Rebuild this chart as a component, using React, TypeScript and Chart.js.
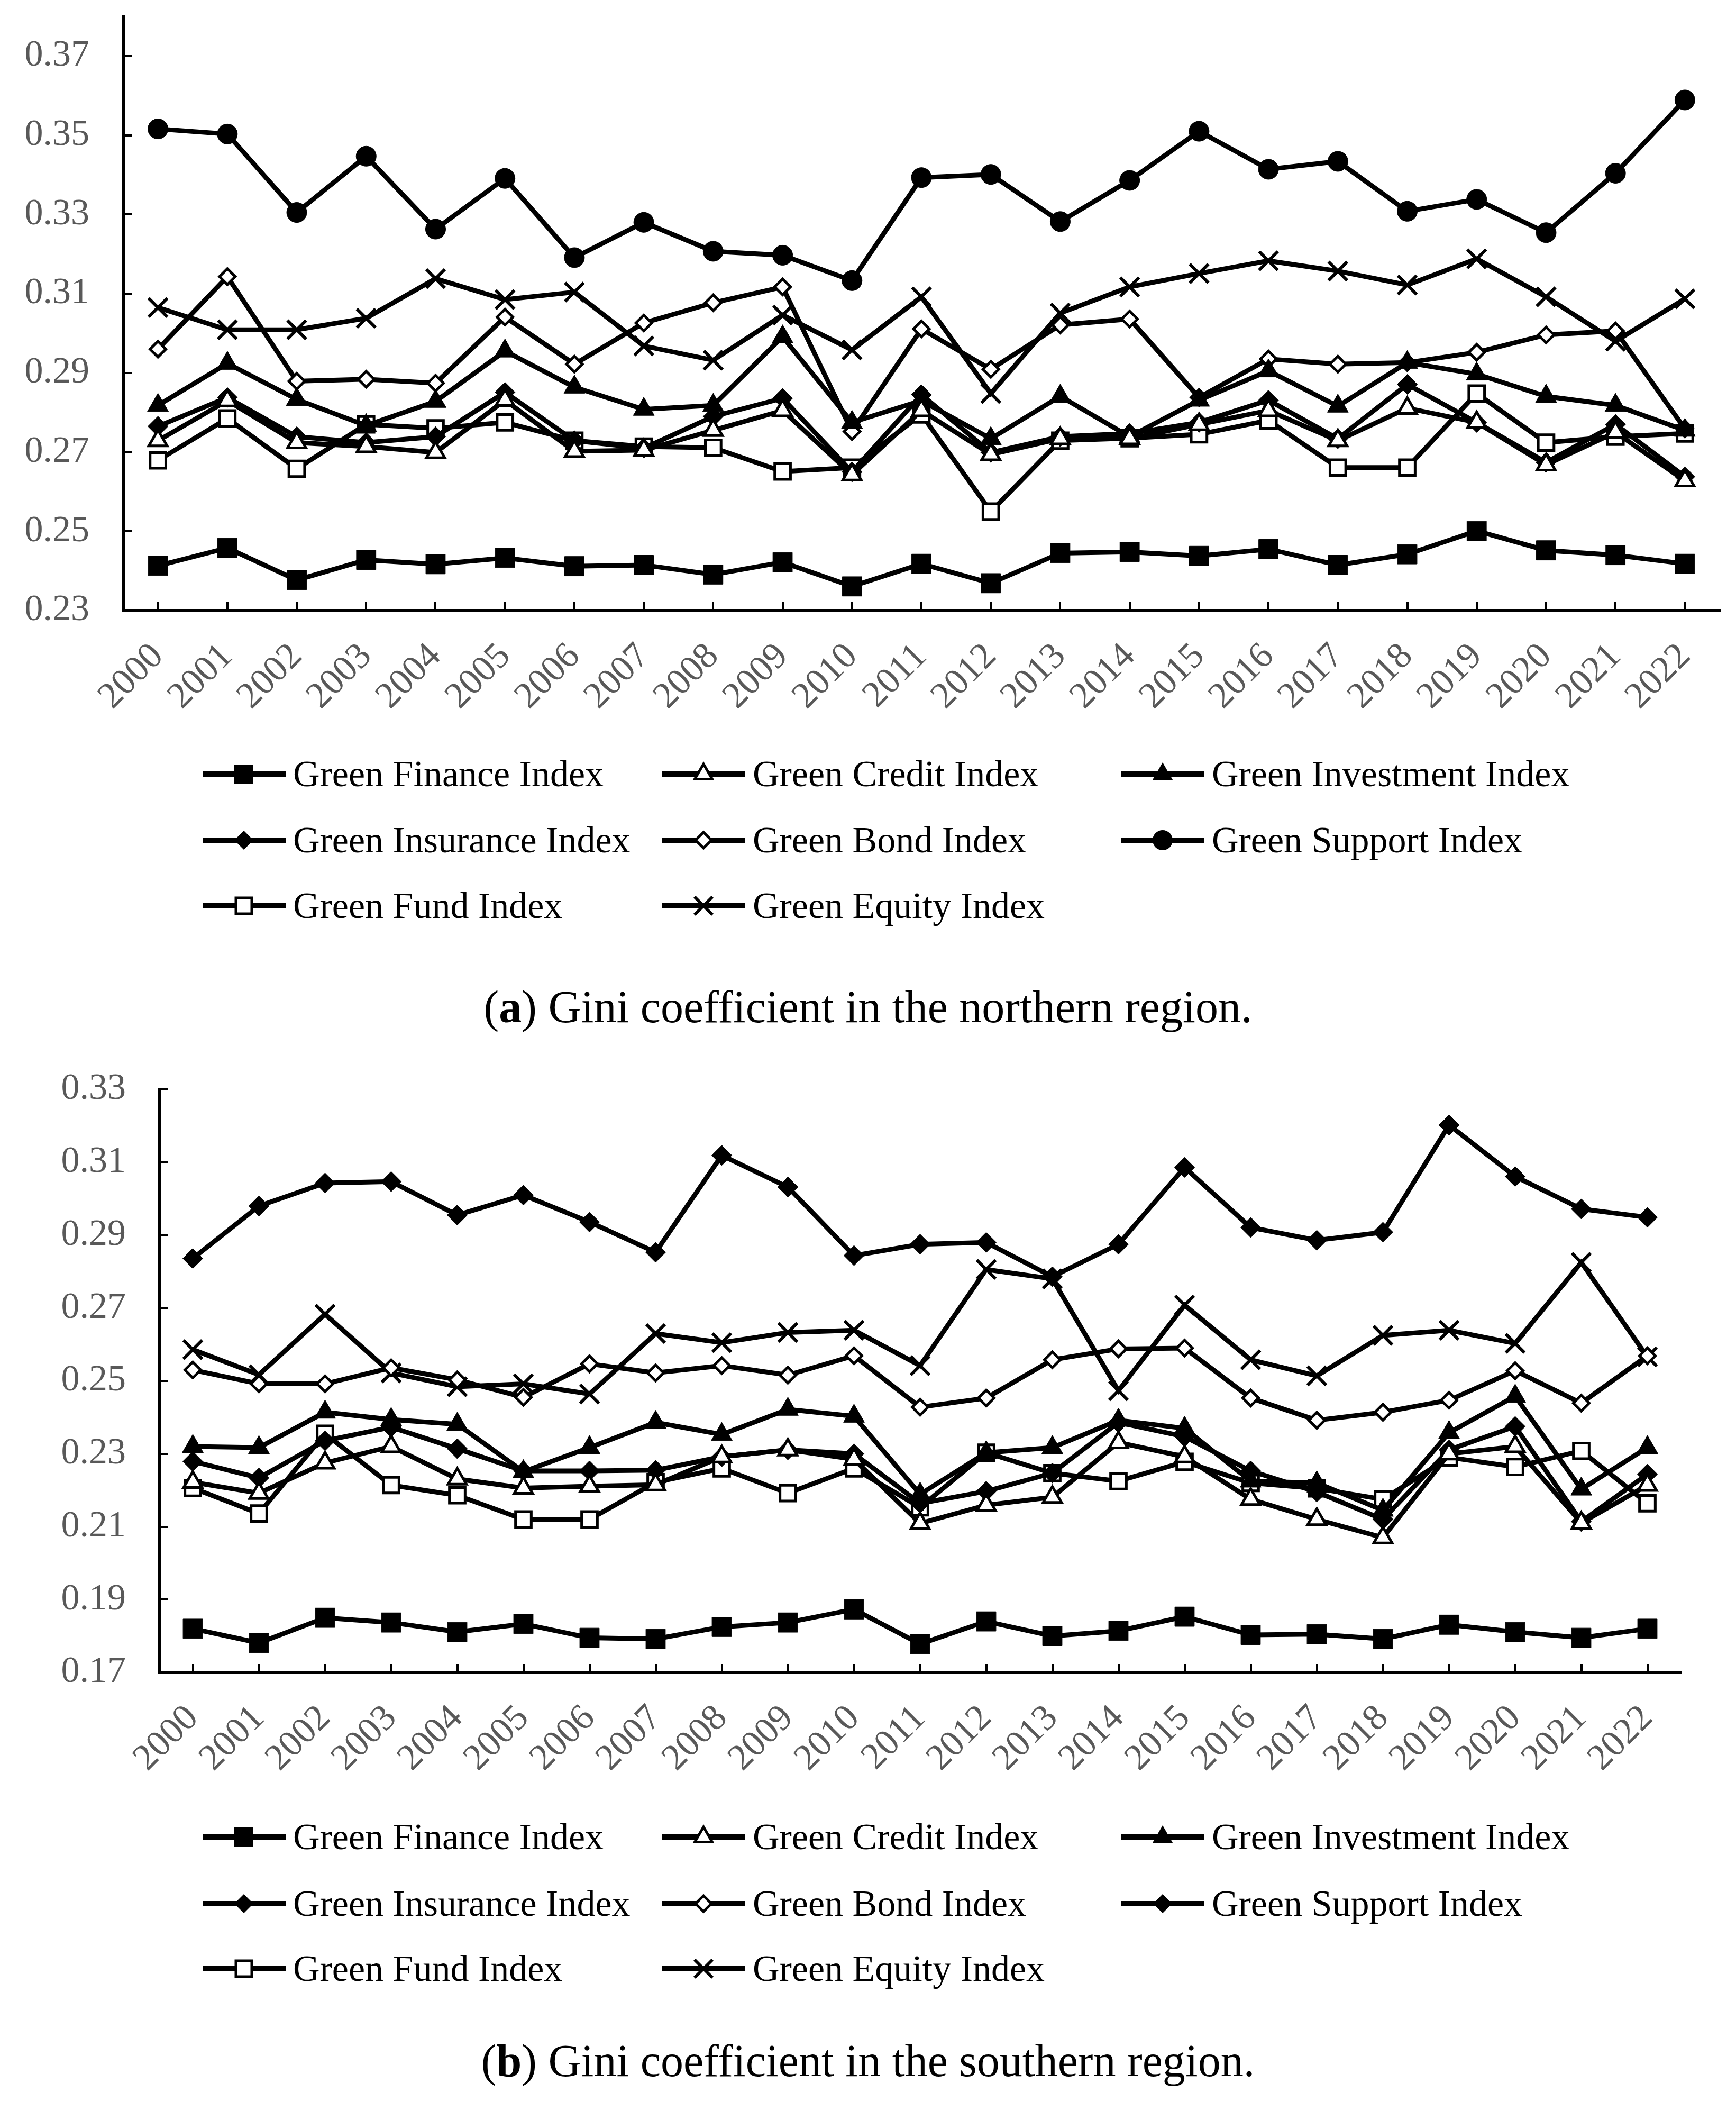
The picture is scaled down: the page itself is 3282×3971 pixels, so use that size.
import React, { useEffect, useRef } from 'react';
import { Chart, registerables } from 'chart.js';

Chart.register(...registerables);

// ---------- data ----------
const years = ['2000','2001','2002','2003','2004','2005','2006','2007','2008','2009','2010','2011','2012','2013','2014','2015','2016','2017','2018','2019','2020','2021','2022'];

const seriesNames = ['Green Finance Index','Green Credit Index','Green Investment Index','Green Insurance Index','Green Bond Index','Green Support Index','Green Fund Index','Green Equity Index'];

const northTicks = [0.23, 0.25, 0.27, 0.29, 0.31, 0.33, 0.35, 0.37];
const southTicks = [0.17, 0.19, 0.21, 0.23, 0.25, 0.27, 0.29, 0.31, 0.33];

const nFinance = [0.2413,0.2458,0.2377,0.2428,0.2417,0.2433,0.2412,0.2415,0.2391,0.2422,0.2361,0.2418,0.2369,0.2445,0.2448,0.2438,0.2455,0.2415,0.2442,0.2501,0.2452,0.2440,0.2418];
const nCredit = [0.2729,0.2830,0.2724,0.2714,0.2699,0.2831,0.2702,0.2705,0.2755,0.2805,0.2643,0.2805,0.2694,0.2734,0.2734,0.2770,0.2805,0.2729,0.2811,0.2775,0.2668,0.2750,0.2628];
const nInvestment = [0.2818,0.2924,0.2833,0.2767,0.2828,0.2955,0.2864,0.2808,0.2818,0.2991,0.2775,0.2830,0.2734,0.2841,0.2739,0.2831,0.2905,0.2816,0.2926,0.2897,0.2841,0.2818,0.2755];
const nInsurance = [0.2765,0.2838,0.2739,0.2724,0.2739,0.2851,0.2729,0.2710,0.2790,0.2836,0.2650,0.2845,0.2699,0.2739,0.2747,0.2775,0.2831,0.2734,0.2871,0.2775,0.2674,0.2770,0.2638];
const nBond = [0.2960,0.3143,0.2879,0.2884,0.2874,0.3041,0.2922,0.3026,0.3077,0.3117,0.2752,0.3011,0.2909,0.3021,0.3036,0.2838,0.2935,0.2922,0.2926,0.2952,0.2996,0.3006,0.2759];
const nSupport = [0.3516,0.3503,0.3305,0.3447,0.3263,0.3391,0.3191,0.3280,0.3207,0.3197,0.3133,0.3393,0.3401,0.3282,0.3386,0.3510,0.3414,0.3434,0.3308,0.3338,0.3254,0.3404,0.3589];
const nFund = [0.2679,0.2785,0.2658,0.2770,0.2760,0.2775,0.2729,0.2714,0.2711,0.2651,0.2661,0.2795,0.2550,0.2729,0.2735,0.2745,0.2780,0.2661,0.2661,0.2848,0.2724,0.2739,0.2747];
const nEquity = [0.3065,0.3009,0.3009,0.3038,0.3138,0.3085,0.3104,0.2968,0.2932,0.3046,0.2958,0.3092,0.2848,0.3051,0.3117,0.3151,0.3183,0.3157,0.3122,0.3188,0.3092,0.2980,0.3087];

const sFinance = [0.1820,0.1781,0.1850,0.1837,0.1811,0.1833,0.1795,0.1792,0.1825,0.1837,0.1873,0.1778,0.1840,0.1800,0.1814,0.1853,0.1803,0.1805,0.1792,0.1831,0.1811,0.1795,0.1820];
const sCredit = [0.2222,0.2192,0.2275,0.2320,0.2231,0.2206,0.2211,0.2215,0.2292,0.2311,0.2285,0.2109,0.2159,0.2181,0.2331,0.2292,0.2175,0.2120,0.2070,0.2300,0.2320,0.2110,0.2214];
const sInvestment = [0.2320,0.2317,0.2414,0.2394,0.2381,0.2251,0.2317,0.2386,0.2353,0.2422,0.2403,0.2189,0.2303,0.2317,0.2392,0.2370,0.2225,0.2220,0.2145,0.2358,0.2458,0.2203,0.2317];
const sInsurance = [0.2279,0.2234,0.2336,0.2373,0.2314,0.2253,0.2253,0.2255,0.2292,0.2311,0.2300,0.2164,0.2197,0.2247,0.2386,0.2347,0.2253,0.2195,0.2120,0.2311,0.2375,0.2114,0.2244];
const sBond = [0.2530,0.2492,0.2492,0.2536,0.2503,0.2455,0.2547,0.2522,0.2542,0.2516,0.2569,0.2428,0.2453,0.2558,0.2588,0.2590,0.2453,0.2392,0.2414,0.2447,0.2528,0.2439,0.2569];
const sSupport = [0.2836,0.2980,0.3043,0.3047,0.2955,0.3010,0.2936,0.2853,0.3119,0.3032,0.2844,0.2875,0.2880,0.2786,0.2875,0.3086,0.2921,0.2886,0.2908,0.3202,0.3061,0.2972,0.2949];
const sFund = [0.2206,0.2136,0.2355,0.2214,0.2186,0.2120,0.2120,0.2222,0.2260,0.2192,0.2260,0.2153,0.2303,0.2247,0.2225,0.2278,0.2220,0.2205,0.2175,0.2290,0.2264,0.2308,0.2164];
const sEquity = [0.2586,0.2517,0.2683,0.2522,0.2484,0.2492,0.2464,0.2630,0.2605,0.2633,0.2639,0.2542,0.2806,0.2780,0.2473,0.2708,0.2558,0.2514,0.2625,0.2639,0.2603,0.2825,0.2566];

// ---------- marker styles ----------
type Mk = 'sqF' | 'triH' | 'triF' | 'diaF' | 'diaH' | 'circF' | 'sqH' | 'cross';
const northMarkers: Mk[] = ['sqF','triH','triF','diaF','diaH','circF','sqH','cross'];
const southMarkers: Mk[] = ['sqF','triH','triF','diaF','diaH','diaF','sqH','cross'];

function pointOpts(m: Mk) {
  switch (m) {
    case 'sqF': return { pointStyle: 'rect', pointRadius: 26, pointBackgroundColor: '#000', pointBorderWidth: 1 };
    case 'triH': return { pointStyle: 'triangle', pointRadius: 20, pointBackgroundColor: '#fff', pointBorderWidth: 5 };
    case 'triF': return { pointStyle: 'triangle', pointRadius: 23, pointBackgroundColor: '#000', pointBorderWidth: 1 };
    case 'diaF': return { pointStyle: 'rectRot', pointRadius: 19, pointBackgroundColor: '#000', pointBorderWidth: 1 };
    case 'diaH': return { pointStyle: 'rectRot', pointRadius: 15, pointBackgroundColor: '#fff', pointBorderWidth: 5 };
    case 'circF': return { pointStyle: 'circle', pointRadius: 19, pointBackgroundColor: '#000', pointBorderWidth: 1 };
    case 'sqH': return { pointStyle: 'rect', pointRadius: 21, pointBackgroundColor: '#fff', pointBorderWidth: 5 };
    case 'cross': return { pointStyle: 'crossRot', pointRadius: 25, pointBackgroundColor: '#000', pointBorderWidth: 6 };
  }
}

function LegendMarker({ m }: { m: Mk }) {
  const cx = 78, cy = 30;
  let shape: React.ReactNode = null;
  const tri = (r: number) => `${cx},${cy - r} ${cx + r * 0.866},${cy + r / 2} ${cx - r * 0.866},${cy + r / 2}`;
  const dia = (r: number) => `${cx},${cy - r} ${cx + r},${cy} ${cx},${cy + r} ${cx - r},${cy}`;
  switch (m) {
    case 'sqF': shape = <rect x={cx - 18} y={cy - 18} width={36} height={36} fill="#000" />; break;
    case 'triH': shape = <polygon points={tri(19)} fill="#fff" stroke="#000" strokeWidth={5} />; break;
    case 'triF': shape = <polygon points={tri(22)} fill="#000" />; break;
    case 'diaF': shape = <polygon points={dia(18)} fill="#000" />; break;
    case 'diaH': shape = <polygon points={dia(15)} fill="#fff" stroke="#000" strokeWidth={5} />; break;
    case 'circF': shape = <circle cx={cx} cy={cy} r={19} fill="#000" />; break;
    case 'sqH': shape = <rect x={cx - 15} y={cy - 15} width={30} height={30} fill="#fff" stroke="#000" strokeWidth={5} />; break;
    case 'cross': shape = (
      <g stroke="#000" strokeWidth={6}>
        <line x1={cx - 17} y1={cy - 17} x2={cx + 17} y2={cy + 17} />
        <line x1={cx - 17} y1={cy + 17} x2={cx + 17} y2={cy - 17} />
      </g>
    ); break;
  }
  return (
    <svg width={157} height={60} style={{ display: 'block' }}>
      <line x1={0} y1={cy} x2={157} y2={cy} stroke="#000" strokeWidth={10} />
      {shape}
    </svg>
  );
}

interface PanelProps {
  top: number;
  height: number;
  series: number[][];
  markers: Mk[];
  yMin: number;
  yMax: number;
  yTicks: number[];
  areaLeft: number;
  areaRight: number;
  areaTop: number;
  areaBottom: number;
}

const FONT = '"Liberation Serif", "Times New Roman", serif';

function Panel(p: PanelProps) {
  const ref = useRef<HTMLCanvasElement | null>(null);
  useEffect(() => {
    if (!ref.current) return;
    const W = 3282;
    const datasets = p.series.map((d, i) => ({
      label: seriesNames[i],
      data: d,
      borderColor: '#000',
      borderWidth: 9,
      pointBorderColor: '#000',
      tension: 0,
      fill: false,
      ...pointOpts(p.markers[i]),
    }));
    const chart = new Chart(ref.current, {
      type: 'line',
      data: { labels: years, datasets: datasets as any },
      options: {
        animation: false,
        responsive: false,
        devicePixelRatio: 1,
        layout: { padding: { left: 0, right: W - p.areaRight, top: p.areaTop, bottom: 0 } },
        plugins: { legend: { display: false }, tooltip: { enabled: false } },
        scales: {
          x: {
            type: 'category',
            offset: true,
            grid: { display: true, drawOnChartArea: false, drawTicks: true, tickLength: -16, lineWidth: 4, color: '#000', offset: false },
            border: { display: true, color: '#000', width: 6 },
            ticks: {
              minRotation: 45, maxRotation: 45, autoSkip: false,
              padding: 62,
              color: '#595959',
              font: { family: FONT, size: 70 },
            },
            afterFit: (axis: any) => {
              axis.height = p.height - p.areaBottom;
              axis.paddingLeft = 0; axis.paddingRight = 0;
            },
          },
          y: {
            type: 'linear',
            min: p.yMin,
            max: p.yMax,
            grid: { display: true, drawOnChartArea: false, drawTicks: true, tickLength: -16, lineWidth: 4, color: '#000' },
            border: { display: true, color: '#000', width: 6 },
            afterBuildTicks: (axis: any) => { axis.ticks = p.yTicks.map(v => ({ value: v })); },
            ticks: {
              padding: 80,
              color: '#595959',
              font: { family: FONT, size: 70 },
              callback: (v: any) => Number(v).toFixed(2),
            },
            afterFit: (axis: any) => {
              axis.width = p.areaLeft;
              axis.paddingTop = 0; axis.paddingBottom = 0;
            },
          },
        },
      } as any,
    });
    return () => chart.destroy();
  }, []);
  return (
    <canvas ref={ref} width={3282} height={p.height}
      style={{ position: 'absolute', left: 0, top: p.top, width: 3282, height: p.height }} />
  );
}

function Legend({ rowsY, markers }: { rowsY: number[]; markers: Mk[] }) {
  const cols = [383, 1252, 2120];
  const items = seriesNames.map((name, i) => {
    const r = Math.floor(i / 3), c = i % 3;
    return (
      <div key={i} style={{ position: 'absolute', left: cols[c], top: rowsY[r] - 40, height: 80, display: 'flex', alignItems: 'center', whiteSpace: 'nowrap' }}>
        <LegendMarker m={markers[i]} />
        <span style={{ marginLeft: 14, fontFamily: FONT, fontSize: 70, color: '#000', lineHeight: '80px' }}>{name}</span>
      </div>
    );
  });
  return <>{items}</>;
}

function Caption({ y, letter, text }: { y: number; letter: string; text: string }) {
  return (
    <div style={{ position: 'absolute', left: 0, width: 3282, top: y - 50, height: 100, textAlign: 'center', fontFamily: FONT, fontSize: 86, lineHeight: '100px', color: '#000' }}>
      (<b>{letter}</b>) {text}
    </div>
  );
}

export default function App() {
  return (
    <div style={{ position: 'absolute', left: 0, top: 0, width: 3282, height: 3971, background: '#fff', overflow: 'hidden' }}>
      <Panel top={0} height={1380}
        series={[nFinance, nCredit, nInvestment, nInsurance, nBond, nSupport, nFund, nEquity]}
        markers={northMarkers} yMin={0.23} yMax={0.38} yTicks={northTicks}
        areaLeft={233} areaRight={3253} areaTop={25} areaBottom={1154} />
      <Legend rowsY={[1463, 1588, 1712]} markers={northMarkers} />
      <Caption y={1903} letter="a" text="Gini coefficient in the northern region." />
      <Panel top={2000} height={1400}
        series={[sFinance, sCredit, sInvestment, sInsurance, sBond, sSupport, sFund, sEquity]}
        markers={southMarkers} yMin={0.17} yMax={0.33} yTicks={southTicks}
        areaLeft={302} areaRight={3177} areaTop={59} areaBottom={1161} />
      <Legend rowsY={[3472, 3598, 3721]} markers={southMarkers} />
      <Caption y={3895} letter="b" text="Gini coefficient in the southern region." />
    </div>
  );
}
